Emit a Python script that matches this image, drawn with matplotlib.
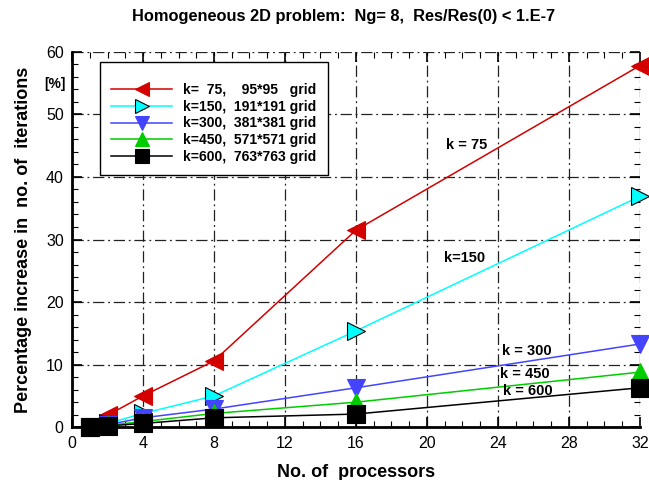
import numpy as np
import matplotlib
matplotlib.use("Agg")
import matplotlib.pyplot as plt
from matplotlib.ticker import MultipleLocator

plt.rcParams['font.family'] = ['Liberation Sans', 'DejaVu Sans']

procs = [1, 2, 4, 8, 16, 32]
k75 = [0, 1.9, 5.0, 10.6, 31.5, 57.8]
k150 = [0, 0.6, 2.2, 5.0, 15.4, 36.9]
k300 = [0, 0.4, 1.5, 2.9, 6.3, 13.3]
k450 = [0, 0.3, 0.9, 2.2, 4.0, 8.8]
k600 = [0, 0.2, 0.6, 1.5, 2.1, 6.3]

names = ["k=  75,    95*95   grid", "k=150,  191*191 grid", "k=300,  381*381 grid",
         "k=450,  571*571 grid", "k=600,  763*763 grid"]
series = [k75, k150, k300, k450, k600]
colors = ["#d40000", "#00ffff", "#4444ff", "#00cc00", "#000000"]
markers = ["<", ">", "v", "^", "s"]
edges = ["#d40000", "#000000", "#4444ff", "#00cc00", "#000000"]

curve_labels = ["k = 75", "k=150", "k = 300", "k = 450", "k = 600"]
label_pos = [(22.25, 45.1), (22.1, 27.0), (25.6, 12.2), (25.5, 8.5), (25.7, 5.8)]

fig = plt.figure(figsize=(6.49, 4.8), dpi=100)
ax = fig.add_axes([0.111, 0.110, 0.875, 0.782])

for name, ys, c, m, e in zip(names, series, colors, markers, edges):
    ax.plot(procs, ys, color=c, lw=1.1, marker=m, markersize=12.5,
            markerfacecolor=c, markeredgecolor=e, markeredgewidth=0.8,
            label=name, clip_on=False, zorder=3)

for txt, (x, y) in zip(curve_labels, label_pos):
    ax.text(x, y, txt, fontsize=10.5, fontweight='bold', ha='center', va='center')

ax.set_xlim(0, 32)
ax.set_ylim(0, 60)
ax.xaxis.set_major_locator(MultipleLocator(4))
ax.xaxis.set_minor_locator(MultipleLocator(1))
ax.yaxis.set_major_locator(MultipleLocator(10))
ax.yaxis.set_minor_locator(MultipleLocator(2))
ax.tick_params(which='both', direction='in', top=True, right=True, labelsize=11.5)
ax.tick_params(which='major', length=7, width=1.2, pad=6)
ax.tick_params(which='minor', length=4, width=0.8)

ax.grid(True, which='major', color='#222222', lw=0.9, linestyle=(0, (9, 3, 1.5, 3)))
for s in ['top', 'right']:
    ax.spines[s].set_visible(False)
for s in ['left', 'bottom']:
    ax.spines[s].set_linewidth(2)

ax.set_xlabel("No. of  processors", fontsize=13, fontweight='bold', labelpad=10)
ax.set_ylabel("Percentage increase in  no. of  iterations", fontsize=13,
              fontweight='bold', labelpad=10)
ax.text(-0.03, 0.915, "[%]", transform=ax.transAxes, fontsize=10,
        fontweight='bold', ha='center', va='center')
fig.text(0.53, 0.965, "Homogeneous 2D problem:  Ng= 8,  Res/Res(0) < 1.E-7",
         fontsize=11.8, fontweight='bold', ha='center', va='center')

leg = ax.legend(loc='upper left', bbox_to_anchor=(0.049, 0.973), borderaxespad=0,
                prop={'weight': 'bold', 'size': 10}, handlelength=4.4,
                borderpad=0.8, labelspacing=0.2, fancybox=False, markerscale=0.85,
                framealpha=1, edgecolor='black', title=" ",
                title_fontproperties={'size': 5})
leg.get_frame().set_linewidth(1.0)

fig.savefig("out.png", dpi=100)
